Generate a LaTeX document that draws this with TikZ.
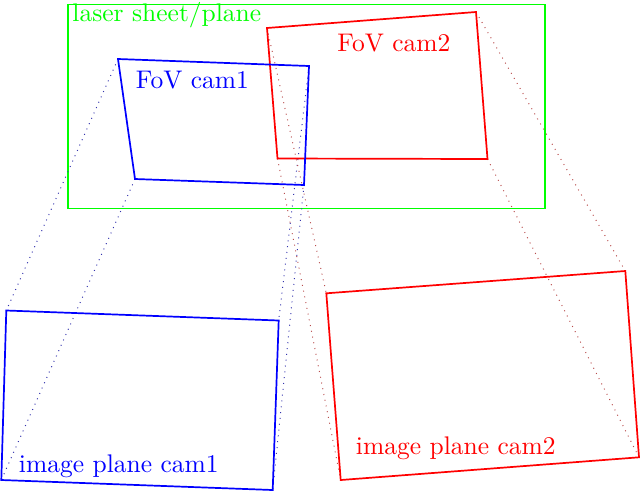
\documentclass[tikz,border=0pt]{standalone}
\begin{document}
\begin{tikzpicture}[x=0.41pt,y=-0.41pt,
  frame/.style={line width=0.7pt, line join=miter},
  ray/.style={dotted, line width=0.4pt},
  lbl/.style={inner sep=0pt, anchor=base west, font=\fontsize{10.45}{12}\selectfont}]
\useasboundingbox (0,0) rectangle (640,492);
% corners
\coordinate (g1) at (68,4.5);
\coordinate (g3) at (545,208.5);
\coordinate (b1) at (118,59);
\coordinate (b2) at (309,66);
\coordinate (b3) at (304,185);
\coordinate (b4) at (135,179);
\coordinate (r1) at (267,28);
\coordinate (r2) at (476,12);
\coordinate (r3) at (487.5,159);
\coordinate (r4) at (277.5,158.5);
\coordinate (ib1) at (6.3,310.5);
\coordinate (ib2) at (278.7,320.5);
\coordinate (ib3) at (272.7,490);
\coordinate (ib4) at (1.3,480);
\coordinate (ir1) at (326.3,293.3);
\coordinate (ir2) at (625.3,271);
\coordinate (ir3) at (639,457.3);
\coordinate (ir4) at (340.7,480);
% laser sheet
\draw[frame, green] (g1) rectangle (g3);
\node[lbl, text=green] (tl) at (72,21.5) {laser sheet/plane};
% rays
\draw[ray, blue!60!black!80] (b1) -- (ib1) (b4) -- (ib4) (b2) -- (ib2) (b3) -- (ib3);
\draw[ray, red!60!black!70] (r1) -- (ir1) (r4) -- (ir4) (r2) -- (ir2) (r3) -- (ir3);
% fields of view
\draw[frame, red] (r1) -- (r2) -- (r3) -- (r4) -- cycle;
\draw[frame, blue] (b1) -- (b2) -- (b3) -- (b4) -- cycle;
\node[lbl, text=blue] (tb) at (135.5,88.3) {FoV cam1};
\node[lbl, text=red] (tr) at (337,51.7) {FoV cam2};
% image planes
\draw[frame, blue] (ib1) -- (ib2) -- (ib3) -- (ib4) -- cycle;
\draw[frame, red] (ir1) -- (ir2) -- (ir3) -- (ir4) -- cycle;
\node[lbl, text=blue] (tib) at (18.5,472.7) {image plane cam1};
\node[lbl, text=red] (tir) at (355.5,454) {image plane cam2};
\end{tikzpicture}
\end{document}
